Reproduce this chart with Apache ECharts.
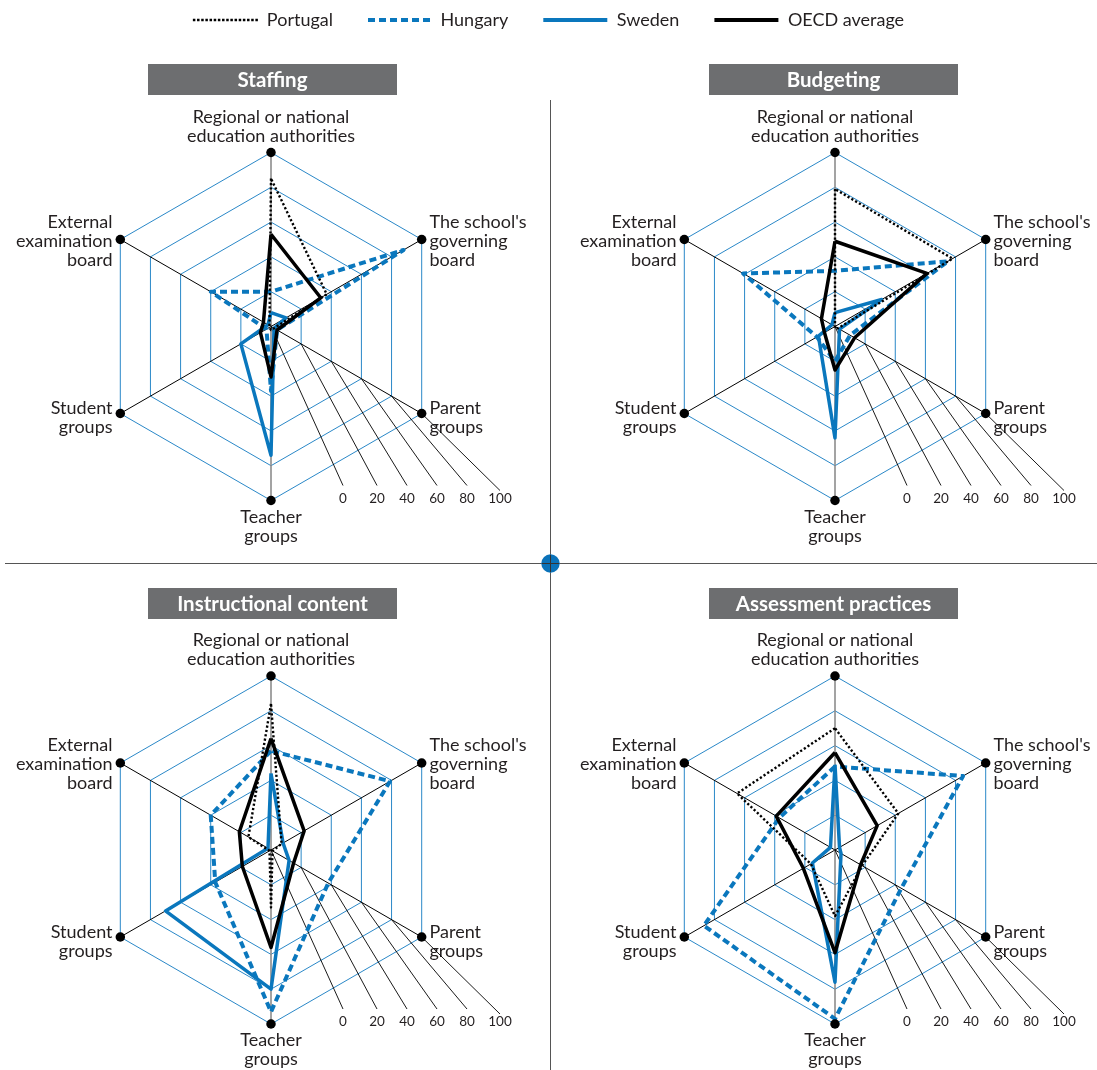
<!DOCTYPE html>
<html><head><meta charset="utf-8">
<script src="https://cdn.jsdelivr.net/npm/echarts@6/dist/echarts.min.js"></script>
<style>html,body{margin:0;padding:0;background:#fff}#c{width:1097px;height:1070px}</style>
</head><body><div id="c"></div>
<script>
// Axis categories, clockwise from the top
const categories = ['Regional or national\neducation authorities', "The school's\ngoverning\nboard", 'Parent\ngroups', 'Teacher\ngroups', 'Student\ngroups', 'External\nexamination\nboard'];
const panelTitles = ['Staffing', 'Budgeting', 'Instructional content', 'Assessment practices'];
const countries = ['Portugal', 'Hungary', 'Sweden', 'OECD average'];
const tickLabels = ['0', '20', '40', '60', '80', '100'];

// Values (%), clockwise from the top: Regional, School board, Parent, Teacher, Student, External
const staffingPortugal = [85, 37, 2, 2, 1, 1];
const staffingHungary  = [20, 88, 4, 37, 3, 40];
const staffingSweden   = [8, 10, 2, 74, 20, 2];
const staffingOECD     = [53, 33, 4, 29, 7, 5];

const budgetingPortugal = [79, 78, 2, 1, 0, 0];
const budgetingHungary  = [32, 75, 10, 20, 12, 61];
const budgetingSweden   = [8, 31, 3, 64, 11, 2];
const budgetingOECD     = [49, 61, 13, 25, 7, 9];

const instructionPortugal = [84, 7, 1, 33, 1, 15];
const instructionHungary  = [57, 79, 38, 93, 37, 40];
const instructionSweden   = [44, 8, 12, 80, 70, 2];
const instructionOECD     = [64, 22, 15, 56, 19, 21];

const assessmentPortugal = [70, 42, 18, 38, 16, 65];
const assessmentHungary  = [48, 85, 44, 97, 87, 37];
const assessmentSweden   = [49, 3, 4, 76, 15, 3];
const assessmentOECD     = [56, 28, 17, 59, 21, 39];

const vertexMarks = [100, 100, 100, 100, 100, 100];

const panelData = [
  [staffingPortugal, staffingHungary, staffingSweden, staffingOECD],
  [budgetingPortugal, budgetingHungary, budgetingSweden, budgetingOECD],
  [instructionPortugal, instructionHungary, instructionSweden, instructionOECD],
  [assessmentPortugal, assessmentHungary, assessmentSweden, assessmentOECD]
];

// ---- layout & style ----
const FONT = 'Lato, "Noto Sans", sans-serif';
const BLUE = '#0a77bd';
const GRID_BLUE = '#2a88c8';
const R = 174;
const panels = [
  {cx: 271, cy: 326.5, tx: 148, ty: 64},
  {cx: 835, cy: 326.5, tx: 709, ty: 64},
  {cx: 271, cy: 850, tx: 148, ty: 588},
  {cx: 835, cy: 850, tx: 709, ty: 588}
];
const scaleOffsets = [72, 106, 136, 166, 196, 229];

// ECharts radar runs counter-clockwise
function ccw(a) { return [a[0], a[5], a[4], a[3], a[2], a[1]]; }

const countryStyle = {
  'Portugal':     {color: '#000', lineStyle: {color: '#000', width: 2.4, type: [2.2, 2.2]}, z: 6},
  'Hungary':      {color: BLUE, lineStyle: {color: BLUE, width: 4, type: [7, 4]}, z: 3},
  'Sweden':       {color: BLUE, lineStyle: {color: BLUE, width: 3.5}, z: 4},
  'OECD average': {color: '#000', lineStyle: {color: '#000', width: 3.5}, z: 5}
};

const vertAxis = {axisLine: {lineStyle: {color: '#8c8c8c', width: 1.6}}};
const indicatorExtras = [
  Object.assign({nameGap: 7}, vertAxis),
  {},
  {},
  Object.assign({nameGap: 7}, vertAxis),
  {},
  {}
];
// spacer line pushes the upper side labels down to sit level with their vertex
const spacerFor = [false, true, false, false, false, true];

const radars = panels.map(p => ({
  center: [p.cx, p.cy],
  radius: R,
  startAngle: 90,
  splitNumber: 5,
  shape: 'polygon',
  nameGap: 9,
  indicator: ccw(categories).map((n, i) => Object.assign(
    {name: (spacerFor[i] ? '{s| }\n' : '') + n, min: 0, max: 100}, indicatorExtras[i])),
  axisName: {color: '#231f20', fontSize: 18, fontFamily: FONT, lineHeight: 19,
    rich: {s: {fontSize: 4, lineHeight: 12}}},
  splitLine: {lineStyle: {color: GRID_BLUE, width: 1}},
  splitArea: {show: false},
  axisLine: {lineStyle: {color: '#000', width: 1}},
  axisTick: {show: false},
  axisLabel: {show: false}
}));

const series = [];
panelData.forEach((rows, pi) => {
  rows.forEach((vals, ci) => {
    const name = countries[ci];
    const st = countryStyle[name];
    series.push({
      type: 'radar', radarIndex: pi, name: name, z: st.z,
      symbol: 'none', silent: true,
      itemStyle: {color: st.color},
      lineStyle: st.lineStyle,
      data: [{name: name, value: ccw(vals)}]
    });
  });
  series.push({
    type: 'radar', radarIndex: pi, name: 'frame', z: 10, silent: true,
    symbol: 'circle', symbolSize: 9.5,
    itemStyle: {color: '#000'},
    lineStyle: {opacity: 0},
    data: [{name: 'frame', value: vertexMarks}]
  });
});

// legend icons
let dots = '';
for (let i = 0; i < 16; i++) dots += 'M' + (i * 4) + ',0h2.4v2.6h-2.4z';
let dashes = '';
for (let i = 0; i < 6; i++) dashes += 'M' + (i * 11) + ',0h7v4h-7z';
const legendIcons = {
  'Portugal': 'path://' + dots,
  'Hungary': 'path://' + dashes,
  'Sweden': 'path://M0,0h64v4h-64z',
  'OECD average': 'path://M0,0h64v4h-64z'
};

const graphics = [];
const c30 = Math.cos(Math.PI / 6), s30 = 0.5;
panels.forEach((p, i) => {
  graphics.push({type: 'rect', silent: true, z: 1, shape: {x: p.tx, y: p.ty, width: 249, height: 31}, style: {fill: '#6d6e70'}});
  graphics.push({type: 'text', silent: true, z: 2, x: p.tx + 124.5, y: p.ty + 16,
    style: {text: panelTitles[i], fill: '#fff', fontFamily: FONT, fontSize: 20.5, fontWeight: 'bold', align: 'center', verticalAlign: 'middle'}});
  tickLabels.forEach((t, k) => {
    const r = k * R / 5;
    const ex = p.cx + scaleOffsets[k];
    const ey = p.cy + (k === 5 ? 164 : 159);
    graphics.push({type: 'line', silent: true, z: 1,
      shape: {x1: p.cx + r * c30, y1: p.cy + r * s30, x2: ex, y2: ey},
      style: {stroke: '#000', lineWidth: 0.9}});
    graphics.push({type: 'text', silent: true, z: 1, x: ex, y: p.cy + 172,
      style: {text: t, fill: '#231f20', fontFamily: FONT, fontSize: 13.5, align: 'center', verticalAlign: 'middle'}});
  });
});
// dividers
graphics.push({type: 'line', silent: true, z: 1, shape: {x1: 550.5, y1: 100, x2: 550.5, y2: 1070}, style: {stroke: '#555', lineWidth: 1}});
graphics.push({type: 'line', silent: true, z: 1, shape: {x1: 5, y1: 563.5, x2: 1097, y2: 563.5}, style: {stroke: '#555', lineWidth: 1}});
graphics.push({type: 'circle', silent: true, z: 3, shape: {cx: 550.5, cy: 563.5, r: 9.2}, style: {fill: '#0a72b9'}});
graphics.push({type: 'line', silent: true, z: 4, shape: {x1: 550.5, y1: 555, x2: 550.5, y2: 572}, style: {stroke: '#333', lineWidth: 1}});
graphics.push({type: 'line', silent: true, z: 4, shape: {x1: 542, y1: 563.5, x2: 559, y2: 563.5}, style: {stroke: '#333', lineWidth: 1}});

const option = {
  animation: false,
  backgroundColor: '#fff',
  legend: {
    top: 6, left: 'center',
    itemWidth: 65, itemHeight: 4, itemGap: 35,
    textStyle: {fontFamily: FONT, fontSize: 18, color: '#231f20', padding: [0, 0, 0, 4]},
    itemStyle: {borderWidth: 0},
    selectedMode: false,
    data: countries.map(n => ({name: n, icon: legendIcons[n], itemStyle: {color: countryStyle[n].color, borderWidth: 0}}))
  },
  radar: radars,
  series: series,
  graphic: graphics
};

const chart = echarts.init(document.getElementById('c'));
chart.setOption(option);
</script>
</body></html>
